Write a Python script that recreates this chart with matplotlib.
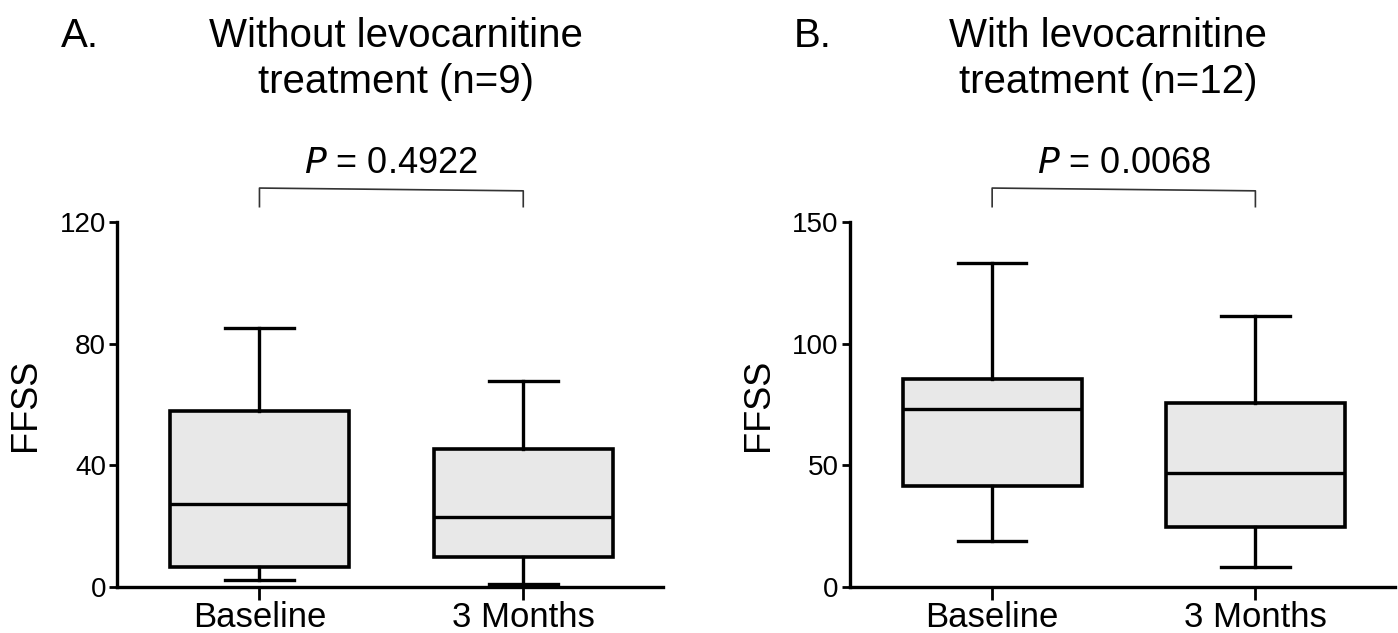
import matplotlib
matplotlib.use("Agg")
from matplotlib import pyplot as plt

plt.rcParams['font.family'] = ['Liberation Sans', 'DejaVu Sans']

groups = ["Baseline", "3 Months"]

# panel A: without levocarnitine (n=9)
a_whislo = [2.2, 1.0]
a_q1 = [6.7, 9.8]
a_med = [27.2, 23.0]
a_q3 = [57.7, 45.4]
a_whishi = [85.2, 67.7]

# panel B: with levocarnitine (n=12)
b_whislo = [19.1, 8.3]
b_q1 = [41.5, 24.7]
b_med = [73.0, 46.9]
b_q3 = [85.5, 75.7]
b_whishi = [133.2, 111.5]

panels = [
    dict(letter="A.", title="Without levocarnitine\ntreatment (n=9)", p="0.4922",
         stats=(a_whislo, a_q1, a_med, a_q3, a_whishi), ymax=120, yticks=[0, 40, 80, 120]),
    dict(letter="B.", title="With levocarnitine\ntreatment (n=12)", p="0.0068",
         stats=(b_whislo, b_q1, b_med, b_q3, b_whishi), ymax=150, yticks=[0, 50, 100, 150]),
]

fig = plt.figure(figsize=(13.98, 6.33), dpi=100)
axes_pos = [[0.0837, 0.0727, 0.3906, 0.5766], [0.608, 0.0727, 0.3898, 0.5766]]
title_x = [0.2835, 0.7925]

for pos, tx, pan in zip(axes_pos, title_x, panels):
    ax = fig.add_axes(pos)
    lo, q1, med, q3, hi = pan["stats"]
    bstats = []
    for i in range(len(groups)):
        bstats.append(dict(whislo=lo[i], q1=q1[i], med=med[i], q3=q3[i], whishi=hi[i],
                           fliers=[], label=groups[i]))
    ax.bxp(bstats, positions=[1, 2], widths=0.68, patch_artist=True, showfliers=False,
           boxprops=dict(facecolor="#e8e8e8", edgecolor="black", linewidth=2.6),
           medianprops=dict(color="black", linewidth=2.4),
           whiskerprops=dict(color="black", linewidth=2.4),
           capprops=dict(color="black", linewidth=2.4),
           capwidths=0.26)
    ax.set_xlim(0.46, 2.53)
    ax.set_ylim(0, pan["ymax"])
    ax.set_yticks(pan["yticks"])
    ax.set_xticks([1, 2])
    ax.set_xticklabels(groups)
    for s in ["top", "right"]:
        ax.spines[s].set_visible(False)
    for s in ["left", "bottom"]:
        ax.spines[s].set_linewidth(2.4)
    ax.tick_params(axis="y", labelsize=20, length=6, width=2, pad=2)
    ax.tick_params(axis="x", labelsize=25, length=9, width=2, pad=1)
    ax.set_ylabel("FFSS", fontsize=26, labelpad=12)

    # significance bracket
    ym = pan["ymax"]
    top = ym * 1.093
    leg = ym * 1.042
    ax.plot([1, 1, 2, 2], [leg, top, top * 0.993, leg], color="#333333", lw=1.2, clip_on=False)
    ax.text(1.5, ym * 1.135, "$P$ = " + pan["p"], ha="center", va="baseline", fontsize=26)

    fig.text(tx, 0.973, pan["title"], ha="center", va="top", fontsize=29, linespacing=1.28)
    fig.text(pos[0] - 0.04, 0.973, pan["letter"], ha="left", va="top", fontsize=29)

fig.savefig("out.png", dpi=100)
